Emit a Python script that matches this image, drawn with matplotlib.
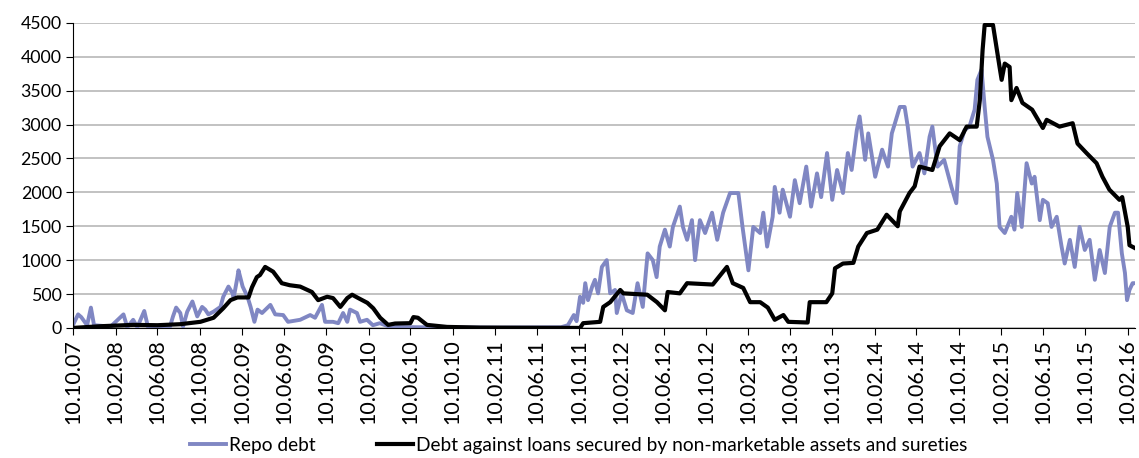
import matplotlib
matplotlib.use("Agg")
import matplotlib.pyplot as plt
import matplotlib.dates as mdates
import pandas as pd

# Repo debt
repo_dates = [
    "2007-10-10", "2007-10-25", "2007-11-03", "2007-11-20", "2007-12-01", "2007-12-10",
    "2008-01-27", "2008-03-04", "2008-03-15", "2008-04-01", "2008-04-13", "2008-05-03",
    "2008-05-14", "2008-07-16", "2008-07-25", "2008-08-03", "2008-08-15", "2008-08-23",
    "2008-09-04", "2008-09-19", "2008-10-03", "2008-10-17", "2008-10-26", "2008-11-04",
    "2008-11-19", "2008-12-09", "2008-12-17", "2009-01-01", "2009-01-13", "2009-01-16",
    "2009-01-27", "2009-01-30", "2009-02-11", "2009-02-25", "2009-03-06", "2009-03-17",
    "2009-03-26", "2009-04-08", "2009-05-02", "2009-05-16", "2009-06-08", "2009-06-22",
    "2009-07-27", "2009-08-25", "2009-09-08", "2009-09-28", "2009-10-07", "2009-10-30",
    "2009-11-14", "2009-11-28", "2009-12-10", "2009-12-18", "2010-01-07", "2010-01-16",
    "2010-02-05", "2010-02-22", "2010-03-14", "2010-04-12", "2010-07-07", "2011-02-26",
    "2011-08-19", "2011-09-08", "2011-09-25", "2011-10-03", "2011-10-13", "2011-10-22",
    "2011-10-28", "2011-11-05", "2011-11-17", "2011-11-25", "2011-12-04", "2011-12-15",
    "2011-12-29", "2012-01-08", "2012-01-22", "2012-01-27", "2012-02-10", "2012-02-25",
    "2012-03-13", "2012-03-27", "2012-04-11", "2012-04-25", "2012-05-10", "2012-05-21",
    "2012-05-30", "2012-06-14", "2012-06-28", "2012-07-07", "2012-07-27", "2012-08-05",
    "2012-08-17", "2012-08-31", "2012-09-09", "2012-09-23", "2012-10-08", "2012-10-28",
    "2012-11-12", "2012-11-29", "2012-12-19", "2013-01-12", "2013-01-24", "2013-02-10",
    "2013-02-24", "2013-03-16", "2013-03-25", "2013-04-05", "2013-04-21", "2013-04-27",
    "2013-05-11", "2013-05-20", "2013-06-10", "2013-06-24", "2013-07-08", "2013-07-27",
    "2013-08-10", "2013-08-27", "2013-09-08", "2013-09-25", "2013-10-10", "2013-10-24",
    "2013-11-10", "2013-11-24", "2013-12-05", "2013-12-20", "2013-12-28", "2014-01-13",
    "2014-01-22", "2014-02-11", "2014-03-03", "2014-03-20", "2014-03-31", "2014-04-09",
    "2014-04-23", "2014-05-07", "2014-05-16", "2014-05-30", "2014-06-19", "2014-07-03",
    "2014-07-18", "2014-07-26", "2014-08-10", "2014-08-29", "2014-09-19", "2014-10-03",
    "2014-10-13", "2014-10-27", "2014-11-10", "2014-11-25", "2014-12-03", "2014-12-15",
    "2014-12-24", "2015-01-01", "2015-01-17", "2015-01-28", "2015-02-05", "2015-02-20",
    "2015-03-11", "2015-03-20", "2015-03-28", "2015-04-10", "2015-04-24", "2015-05-09",
    "2015-05-17", "2015-06-01", "2015-06-10", "2015-06-24", "2015-07-05", "2015-07-20",
    "2015-08-03", "2015-08-12", "2015-08-27", "2015-09-10", "2015-09-24", "2015-10-09",
    "2015-10-23", "2015-11-07", "2015-11-21", "2015-12-06", "2015-12-20", "2016-01-04",
    "2016-01-13", "2016-01-24", "2016-02-02", "2016-02-08", "2016-02-15", "2016-02-24",
    "2016-03-01",
]
repo_values = [
    40, 200, 160, 40, 300, 40,
    20, 200, 10, 120, 10, 250,
    10, 15, 170, 300, 220, 20,
    240, 390, 170, 310, 270, 200,
    240, 310, 460, 610, 510, 440,
    750, 850, 610, 460, 310, 90,
    270, 220, 340, 200, 190, 90,
    120, 190, 150, 340, 90, 90,
    70, 220, 90, 270, 220, 90,
    120, 40, 70, 15, 10, 5,
    10, 40, 190, 100, 460, 370,
    660, 410, 610, 710, 510, 900,
    1000, 510, 560, 220, 510, 260,
    220, 660, 310, 1100, 1000, 750,
    1200, 1450, 1200, 1490, 1790, 1490,
    1300, 1590, 1000, 1590, 1400, 1700,
    1300, 1700, 1990, 1990, 1490, 850,
    1490, 1400, 1700, 1200, 1640, 2080,
    1700, 2040, 1640, 2180, 1840, 2380,
    1790, 2280, 1930, 2580, 1890, 2330,
    1990, 2580, 2330, 2920, 3120, 2480,
    2870, 2230, 2630, 2380, 2870, 3020,
    3260, 3260, 2970, 2380, 2580, 2280,
    2820, 2970, 2380, 2480, 2080, 1840,
    2680, 2920, 2970, 3220, 3660, 3810,
    3260, 2820, 2480, 2130, 1490, 1400,
    1640, 1450, 1990, 1490, 2430, 2130,
    2230, 1590, 1890, 1840, 1490, 1640,
    1200, 950, 1300, 900, 1490, 1150,
    1300, 710, 1150, 810, 1490, 1700,
    1700, 1100, 810, 410, 560, 660,
    660,
]

# Debt against loans secured by non-marketable assets and sureties
loan_dates = [
    "2007-10-10", "2007-12-28", "2008-04-01", "2008-06-10", "2008-08-15", "2008-10-12",
    "2008-11-19", "2008-12-17", "2009-01-07", "2009-01-27", "2009-02-28", "2009-03-10",
    "2009-03-24", "2009-04-02", "2009-04-17", "2009-05-10", "2009-06-04", "2009-06-27",
    "2009-07-27", "2009-08-30", "2009-09-17", "2009-10-13", "2009-10-30", "2009-11-20",
    "2009-12-10", "2009-12-24", "2010-01-11", "2010-02-06", "2010-02-23", "2010-03-15",
    "2010-04-07", "2010-04-27", "2010-06-10", "2010-06-19", "2010-07-02", "2010-07-28",
    "2010-09-24", "2010-12-28", "2011-10-13", "2011-10-22", "2011-12-10", "2011-12-19",
    "2012-01-08", "2012-02-06", "2012-02-15", "2012-04-24", "2012-05-22", "2012-06-14",
    "2012-06-22", "2012-07-27", "2012-08-17", "2012-10-30", "2012-12-10", "2012-12-27",
    "2013-01-26", "2013-02-15", "2013-03-16", "2013-04-07", "2013-04-27", "2013-05-22",
    "2013-06-05", "2013-07-31", "2013-08-06", "2013-09-23", "2013-10-10", "2013-10-18",
    "2013-11-10", "2013-12-10", "2013-12-24", "2014-01-18", "2014-02-17", "2014-03-16",
    "2014-04-17", "2014-04-23", "2014-05-21", "2014-06-05", "2014-06-19", "2014-07-26",
    "2014-08-16", "2014-09-14", "2014-10-13", "2014-11-02", "2014-12-01", "2014-12-10",
    "2014-12-18", "2014-12-24", "2015-01-17", "2015-02-05", "2015-02-11", "2015-02-20",
    "2015-03-06", "2015-03-11", "2015-03-26", "2015-04-12", "2015-05-10", "2015-06-10",
    "2015-06-21", "2015-07-28", "2015-09-04", "2015-09-18", "2015-10-14", "2015-11-12",
    "2015-11-29", "2015-12-19", "2016-01-17", "2016-01-25", "2016-02-10", "2016-02-15",
    "2016-03-01",
]
loan_values = [
    0, 25, 45, 40, 55, 90,
    150, 290, 410, 450, 450, 600,
    750, 780, 900, 830, 660, 630,
    610, 530, 410, 460, 440, 310,
    440, 490, 440, 370, 290, 150,
    45, 65, 70, 160, 150, 45,
    15, 5, 0, 70, 90, 310,
    380, 560, 510, 490, 380, 260,
    530, 510, 660, 640, 900, 660,
    590, 380, 380, 300, 120, 190,
    90, 80, 380, 380, 510, 880,
    950, 960, 1200, 1400, 1450, 1670,
    1500, 1720, 1990, 2090, 2380, 2330,
    2680, 2870, 2770, 2970, 2970, 3360,
    4100, 4470, 4470, 3850, 3660, 3900,
    3850, 3360, 3540, 3320, 3220, 2950,
    3070, 2970, 3020, 2720, 2580, 2430,
    2230, 2040, 1890, 1930, 1490, 1220,
    1180,
]

# ticks every four months, on the 10th
tick_dates = pd.date_range("2007-10-01", "2016-02-01", freq="4MS") + pd.Timedelta(days=9)
y_ticks = list(range(0, 4501, 500))

plt.rcParams["font.family"] = ["Lato", "DejaVu Sans"]

fig = plt.figure(figsize=(11.39, 4.58), dpi=100)
ax = fig.add_axes([0.064, 0.284, 0.9325, 0.666])

ax.plot(pd.to_datetime(repo_dates), repo_values, color="#8087C3", lw=2.8,
        label="Repo debt", solid_joinstyle="round")
ax.plot(pd.to_datetime(loan_dates), loan_values, color="black", lw=3.0,
        label="Debt against loans secured by non-marketable assets and sureties",
        solid_joinstyle="round")

ax.set_ylim(0, 4500)
ax.set_yticks(y_ticks)
ax.set_xlim(pd.Timestamp("2007-10-10"), pd.Timestamp("2016-03-02"))
ax.set_xticks(tick_dates)
ax.xaxis.set_major_formatter(mdates.DateFormatter("%d.%m.%y"))

ax.grid(axis="y", color="#BDBDBD", lw=1.3)
ax.set_axisbelow(True)
for s in ["top", "right"]:
    ax.spines[s].set_visible(False)
ax.spines["left"].set_color("black")
ax.spines["bottom"].set_color("black")
ax.tick_params(axis="y", labelsize=12.8, length=5, color="black", pad=3)
ax.tick_params(axis="x", labelsize=15.5, length=5, color="black", rotation=90, pad=3)

fig.legend(loc="lower center", bbox_to_anchor=(0.508, -0.028), ncol=2, frameon=False,
           fontsize=13.8, handlelength=1.9, handletextpad=0.15, columnspacing=3.2)

fig.savefig("out.png", dpi=100)
